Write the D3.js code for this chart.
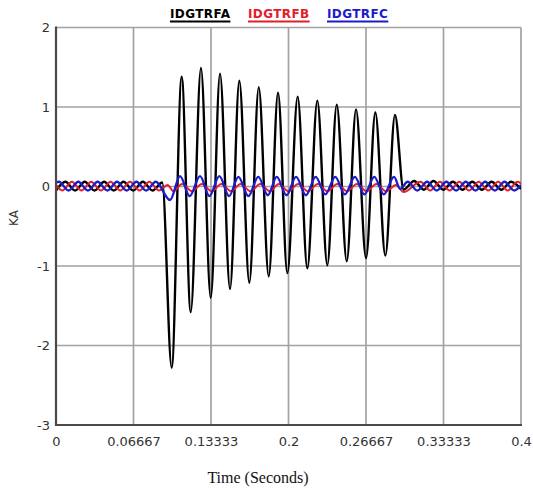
<!DOCTYPE html>
<html>
<head>
<meta charset="utf-8">
<script src="https://cdn.jsdelivr.net/npm/d3@7/dist/d3.min.js"></script>
<style>
  html, body { margin: 0; padding: 0; background: #fff; }
  svg { display: block; }
</style>
</head>
<body>
<svg id="chart" width="533" height="488"></svg>
<script>
// Axis ticks
const xTickValues = [0, 0.06667, 0.13333, 0.2, 0.26667, 0.33333, 0.4];
const xTickLabels = ["0", "0.06667", "0.13333", "0.2", "0.26667", "0.33333", "0.4"];
const yTickValues = [2, 1, 0, -1, -2, -3];
const yTickLabels = ["2", "1", "0", "-1", "-2", "-3"];

// Legend
const seriesNames = ["IDGTRFA", "IDGTRFB", "IDGTRFC"];
const seriesColors = ["#000000", "#e0202a", "#1c1cc8"];

// Phase A current [time s, kA] — peaks and troughs
const idgtrfa = [
  [0.0000, -0.05], [0.0081, 0.06], [0.0164, -0.05], [0.0247, 0.06], [0.0331, -0.05],
  [0.0414, 0.06], [0.0497, -0.05], [0.0581, 0.06], [0.0664, -0.05], [0.0747, 0.06],
  [0.0831, -0.05], [0.0914, 0.05],
  [0.0995, -2.28], [0.1081, 1.38], [0.1159, -1.58], [0.1247, 1.49], [0.1331, -1.40],
  [0.1411, 1.42], [0.1497, -1.29], [0.1577, 1.33], [0.1663, -1.21], [0.1744, 1.25],
  [0.1830, -1.13], [0.1910, 1.18], [0.1990, -1.09], [0.2079, 1.13], [0.2162, -1.03],
  [0.2248, 1.08], [0.2334, -0.99], [0.2415, 1.03], [0.2501, -0.94], [0.2581, 0.97],
  [0.2667, -0.90], [0.2747, 0.93], [0.2833, -0.87], [0.2916, 0.90],
  [0.2990, -0.04], [0.3081, 0.07], [0.3164, -0.04], [0.3247, 0.07], [0.3331, -0.04],
  [0.3414, 0.06], [0.3497, -0.04], [0.3581, 0.06], [0.3664, -0.04], [0.3747, 0.06],
  [0.3831, -0.04], [0.3914, 0.06], [0.4000, -0.03]
];

// Phase B current [time s, kA]
const idgtrfb = [
  [0.0000, 0.02], [0.0053, -0.05], [0.0136, 0.06], [0.0219, -0.05], [0.0303, 0.06],
  [0.0386, -0.05], [0.0469, 0.06], [0.0553, -0.05], [0.0636, 0.06], [0.0719, -0.05],
  [0.0803, 0.06], [0.0886, -0.05],
  [0.0960, 0.02], [0.1010, -0.06], [0.1085, 0.03], [0.1170, -0.06], [0.1255, 0.03],
  [0.1340, -0.06], [0.1422, 0.03], [0.1507, -0.06], [0.1588, 0.03], [0.1673, -0.06],
  [0.1757, 0.03], [0.1840, -0.06], [0.1917, 0.03], [0.2000, -0.06], [0.2083, 0.03],
  [0.2167, -0.06], [0.2252, 0.03], [0.2335, -0.06], [0.2420, 0.03], [0.2504, -0.06],
  [0.2589, 0.03], [0.2672, -0.06], [0.2756, 0.03], [0.2839, -0.06], [0.2925, 0.02],
  [0.2990, -0.07], [0.3136, 0.06], [0.3219, -0.05], [0.3303, 0.06], [0.3386, -0.05],
  [0.3469, 0.06], [0.3553, -0.05], [0.3636, 0.06], [0.3719, -0.05], [0.3803, 0.06],
  [0.3886, -0.05], [0.3969, 0.06], [0.4000, 0.04]
];

// Phase C current [time s, kA]
const idgtrfc = [
  [0.0000, 0.05], [0.0025, 0.06], [0.0108, -0.05], [0.0192, 0.06], [0.0275, -0.05],
  [0.0358, 0.06], [0.0442, -0.05], [0.0525, 0.06], [0.0608, -0.05], [0.0692, 0.06],
  [0.0775, -0.05], [0.0858, 0.06],
  [0.0981, -0.17], [0.1067, 0.13], [0.1150, -0.12], [0.1239, 0.13], [0.1320, -0.12],
  [0.1405, 0.13], [0.1489, -0.12], [0.1569, 0.12], [0.1655, -0.12], [0.1740, 0.12],
  [0.1822, -0.11], [0.1899, 0.12], [0.1983, -0.11], [0.2065, 0.12], [0.2150, -0.11],
  [0.2234, 0.12], [0.2317, -0.10], [0.2402, 0.12], [0.2485, -0.10], [0.2571, 0.12],
  [0.2653, -0.10], [0.2738, 0.12], [0.2820, -0.10], [0.2908, 0.12],
  [0.2960, -0.03], [0.3025, 0.06], [0.3108, -0.05], [0.3192, 0.06], [0.3275, -0.05],
  [0.3358, 0.06], [0.3442, -0.05], [0.3525, 0.06], [0.3608, -0.05], [0.3692, 0.06],
  [0.3775, -0.05], [0.3858, 0.06], [0.3942, -0.05], [0.4000, 0.02]
];

const seriesData = [idgtrfa, idgtrfb, idgtrfc];
const seriesWidths = [2.4, 2, 2.3];

const svg = d3.select("#chart");
const plot = { left: 56, right: 521, top: 27.5, bottom: 425 };

const x = d3.scaleLinear().domain([0, 0.4]).range([plot.left, plot.right]);
const y = d3.scaleLinear().domain([-3, 2]).range([plot.bottom, plot.top]);

// Grid
const grid = svg.append("g").attr("stroke", "#a2a2a2").attr("stroke-width", 1.7);
grid.selectAll("line.v").data(xTickValues.slice(1)).join("line")
  .attr("x1", d => x(d)).attr("x2", d => x(d))
  .attr("y1", plot.top).attr("y2", plot.bottom);
grid.selectAll("line.h").data(yTickValues.slice(0, -1)).join("line")
  .attr("x1", plot.left).attr("x2", plot.right)
  .attr("y1", d => y(d)).attr("y2", d => y(d));

// Waveforms
svg.append("clipPath").attr("id", "clip").append("rect")
  .attr("x", plot.left).attr("y", plot.top)
  .attr("width", plot.right - plot.left).attr("height", plot.bottom - plot.top);

const line = d3.line()
  .x(d => x(d[0]))
  .y(d => y(d[1]))
  .curve(d3.curveMonotoneX);

svg.append("g").attr("clip-path", "url(#clip)")
  .selectAll("path").data(seriesData).join("path")
  .attr("fill", "none")
  .attr("stroke", (d, i) => seriesColors[i])
  .attr("stroke-width", (d, i) => seriesWidths[i])
  .attr("stroke-linejoin", "round")
  .attr("d", line);

// Axis frame: left and bottom
svg.append("line").attr("x1", plot.left).attr("x2", plot.left)
  .attr("y1", plot.top - 1).attr("y2", plot.bottom + 1)
  .attr("stroke", "#4a4a4a").attr("stroke-width", 2.2);
svg.append("line").attr("x1", plot.left - 1).attr("x2", plot.right + 1)
  .attr("y1", plot.bottom).attr("y2", plot.bottom)
  .attr("stroke", "#4a4a4a").attr("stroke-width", 2.2);

// Tick labels
const xAxis = d3.axisBottom(x)
  .tickValues(xTickValues)
  .tickFormat((d, i) => xTickLabels[i])
  .tickSize(0).tickPadding(0);
const gx = svg.append("g").attr("transform", `translate(0,${plot.bottom + 12})`).call(xAxis);
gx.select(".domain").remove();
gx.selectAll("text").attr("font-family", "DejaVu Sans").attr("font-size", 13)
  .attr("fill", "#333").attr("dy", "0.71em");

const yAxis = d3.axisLeft(y).tickValues(yTickValues)
  .tickFormat((d, i) => yTickLabels[i])
  .tickSize(0).tickPadding(0);
const gy = svg.append("g").attr("transform", `translate(${plot.left - 6},0)`).call(yAxis);
gy.select(".domain").remove();
gy.selectAll("text").attr("font-family", "DejaVu Sans").attr("font-size", 13)
  .attr("fill", "#333");

// Axis titles
svg.append("text")
  .attr("transform", "translate(18,218) rotate(-90)")
  .attr("text-anchor", "middle")
  .attr("font-family", "DejaVu Sans").attr("font-size", 12).attr("fill", "#333")
  .text("KA");

svg.append("text")
  .attr("x", 258).attr("y", 483)
  .attr("text-anchor", "middle")
  .attr("font-family", "Liberation Serif").attr("font-size", 16).attr("fill", "#111")
  .text("Time (Seconds)");

// Legend with underlined names
const legendX = [170, 248, 327];
const legend = svg.append("g");
seriesNames.forEach((name, i) => {
  const t = legend.append("text")
    .attr("x", legendX[i]).attr("y", 18)
    .attr("font-family", "DejaVu Sans").attr("font-weight", "bold")
    .attr("font-size", 12).attr("letter-spacing", 0.4).attr("fill", seriesColors[i])
    .text(name);
  const w = t.node().getComputedTextLength();
  legend.append("line")
    .attr("x1", legendX[i]).attr("x2", legendX[i] + w)
    .attr("y1", 21.5).attr("y2", 21.5)
    .attr("stroke", seriesColors[i]).attr("stroke-width", 2);
});
</script>
</body>
</html>
